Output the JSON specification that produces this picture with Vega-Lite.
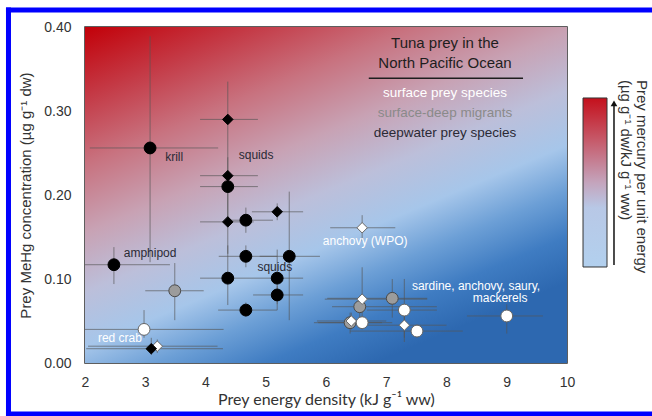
{
  "$schema": "https://vega.github.io/schema/vega-lite/v6.json",
  "width": 482,
  "height": 336,
  "autosize": {"type": "none"},
  "padding": {"left": 85, "top": 27, "right": 85, "bottom": 53},
  "background": "white",
  "config": {
    "view": {"stroke": "#2a2a2a", "strokeWidth": 1.5},
    "font": "Liberation Sans",
    "axisX": {
      "ticks": false, "domain": false, "grid": false, "labelFlush": false,
      "labelFontSize": 14, "labelColor": "#333333", "labelPadding": 12,
      "titleFont": "Lato", "titleFontSize": 16, "titleFontWeight": "normal", "titleColor": "#333333", "titlePadding": 2
    },
    "axisY": {
      "ticks": false, "domain": false, "grid": false, "labelFlush": false,
      "labelFontSize": 14, "labelColor": "#333333", "labelPadding": 14,
      "titleFontSize": 15, "titleFontWeight": "normal", "titleColor": "#333333", "titlePadding": 10
    }
  },
  "datasets": {
    "prey": [
      {"x": 3.20, "y": 0.020, "xmin": 2.05, "xmax": 4.20, "ymin": 0.012, "ymax": 0.028, "habitat": "surface", "shape": "diamond"},
      {"x": 3.08, "y": 0.256, "xmin": 2.08, "xmax": 4.21, "ymin": 0.120, "ymax": 0.389, "habitat": "deep", "shape": "circle"},
      {"x": 2.48, "y": 0.117, "xmin": 2.00, "xmax": 3.41, "ymin": 0.094, "ymax": 0.138, "habitat": "deep", "shape": "circle"},
      {"x": 4.37, "y": 0.210, "xmin": 3.91, "xmax": 4.87, "ymin": 0.170, "ymax": 0.245, "habitat": "deep", "shape": "circle"},
      {"x": 4.67, "y": 0.170, "xmin": 4.37, "xmax": 5.12, "ymin": 0.155, "ymax": 0.185, "habitat": "deep", "shape": "circle"},
      {"x": 4.67, "y": 0.127, "xmin": 4.22, "xmax": 5.19, "ymin": 0.114, "ymax": 0.140, "habitat": "deep", "shape": "circle"},
      {"x": 5.39, "y": 0.127, "xmin": 4.90, "xmax": 5.90, "ymin": 0.051, "ymax": 0.204, "habitat": "deep", "shape": "circle"},
      {"x": 4.37, "y": 0.101, "xmin": 3.91, "xmax": 4.79, "ymin": 0.069, "ymax": 0.140, "habitat": "deep", "shape": "circle"},
      {"x": 5.19, "y": 0.101, "xmin": 4.79, "xmax": 5.62, "ymin": 0.063, "ymax": 0.135, "habitat": "deep", "shape": "circle"},
      {"x": 5.19, "y": 0.081, "xmin": 4.79, "xmax": 5.62, "ymin": 0.070, "ymax": 0.092, "habitat": "deep", "shape": "circle"},
      {"x": 4.67, "y": 0.063, "xmin": 4.21, "xmax": 5.19, "ymin": 0.055, "ymax": 0.072, "habitat": "deep", "shape": "circle"},
      {"x": 4.37, "y": 0.290, "xmin": 3.91, "xmax": 4.87, "ymin": 0.245, "ymax": 0.335, "habitat": "deep", "shape": "diamond"},
      {"x": 4.37, "y": 0.223, "xmin": 3.91, "xmax": 4.87, "ymin": 0.200, "ymax": 0.245, "habitat": "deep", "shape": "diamond"},
      {"x": 4.37, "y": 0.168, "xmin": 3.91, "xmax": 4.80, "ymin": 0.130, "ymax": 0.200, "habitat": "deep", "shape": "diamond"},
      {"x": 5.19, "y": 0.180, "xmin": 4.77, "xmax": 5.62, "ymin": 0.170, "ymax": 0.190, "habitat": "deep", "shape": "diamond"},
      {"x": 3.10, "y": 0.017, "xmin": 2.02, "xmax": 4.29, "ymin": 0.010, "ymax": 0.030, "habitat": "deep", "shape": "diamond"},
      {"x": 3.49, "y": 0.086, "xmin": 3.00, "xmax": 3.97, "ymin": 0.051, "ymax": 0.119, "habitat": "migrant", "shape": "circle"},
      {"x": 7.10, "y": 0.077, "xmin": 6.02, "xmax": 7.68, "ymin": 0.054, "ymax": 0.100, "habitat": "migrant", "shape": "circle"},
      {"x": 6.56, "y": 0.067, "xmin": 6.10, "xmax": 7.84, "ymin": 0.050, "ymax": 0.080, "habitat": "migrant", "shape": "circle"},
      {"x": 6.40, "y": 0.048, "xmin": 5.87, "xmax": 6.93, "ymin": 0.035, "ymax": 0.060, "habitat": "migrant", "shape": "circle"},
      {"x": 2.98, "y": 0.040, "xmin": 2.00, "xmax": 4.30, "ymin": 0.030, "ymax": 0.063, "habitat": "surface", "shape": "circle"},
      {"x": 6.60, "y": 0.048, "xmin": 5.80, "xmax": 7.10, "ymin": 0.040, "ymax": 0.056, "habitat": "surface", "shape": "circle"},
      {"x": 7.30, "y": 0.063, "xmin": 6.68, "xmax": 7.84, "ymin": 0.030, "ymax": 0.100, "habitat": "surface", "shape": "circle"},
      {"x": 7.51, "y": 0.038, "xmin": 6.40, "xmax": 8.27, "ymin": 0.030, "ymax": 0.046, "habitat": "surface", "shape": "circle"},
      {"x": 9.00, "y": 0.056, "xmin": 8.34, "xmax": 9.60, "ymin": 0.035, "ymax": 0.070, "habitat": "surface", "shape": "circle"},
      {"x": 6.60, "y": 0.161, "xmin": 6.07, "xmax": 7.15, "ymin": 0.145, "ymax": 0.176, "habitat": "surface", "shape": "diamond"},
      {"x": 6.60, "y": 0.076, "xmin": 5.98, "xmax": 7.68, "ymin": 0.050, "ymax": 0.114, "habitat": "surface", "shape": "diamond"},
      {"x": 7.30, "y": 0.045, "xmin": 6.60, "xmax": 8.00, "ymin": 0.025, "ymax": 0.060, "habitat": "surface", "shape": "diamond"},
      {"x": 6.42, "y": 0.050, "xmin": 5.85, "xmax": 7.00, "ymin": 0.040, "ymax": 0.060, "habitat": "surface", "shape": "diamond"}
    ],
    "notes": [
      {"x": 3.48, "y": 0.245, "text": "krill", "tone": "dark"},
      {"x": 4.84, "y": 0.248, "text": "squids", "tone": "dark"},
      {"x": 5.15, "y": 0.114, "text": "squids", "tone": "dark"},
      {"x": 3.08, "y": 0.131, "text": "amphipod", "tone": "dark"},
      {"x": 2.58, "y": 0.030, "text": "red crab", "tone": "light"},
      {"x": 6.65, "y": 0.145, "text": "anchovy (WPO)", "tone": "light"},
      {"x": 8.49, "y": 0.092, "text": "sardine, anchovy, saury,", "tone": "light"},
      {"x": 8.89, "y": 0.077, "text": "mackerels", "tone": "light"}
    ],
    "keyTitle": [
      {"y": 0.381, "text": "Tuna prey in the"},
      {"y": 0.357, "text": "North Pacific Ocean"}
    ],
    "keyItems": [
      {"y": 0.321, "text": "surface prey species", "tone": "light"},
      {"y": 0.298, "text": "surface-deep migrants", "tone": "gray"},
      {"y": 0.274, "text": "deepwater prey species", "tone": "dark"}
    ],
    "barTitle": [
      {"x": 11.24, "text": "Prey mercury per unit energy"},
      {"x": 10.98, "text": "(µg g⁻¹ dw/kJ g⁻¹ ww)"}
    ],
    "frame": [
      {"x": 0.73, "x2": 0.73, "y": -0.0607, "y2": 0.4202},
      {"x": 0.73, "x2": 11.44, "y": 0.4202, "y2": 0.4202},
      {"x": 0.73, "x2": 11.44, "y": -0.0607, "y2": -0.0607}
    ]
  },
  "layer": [
    {
      "data": {"values": [{}]},
      "mark": {
        "type": "rect",
        "fill": {
          "gradient": "linear", "x1": 0, "y1": 0, "x2": 0.6, "y2": 1,
          "stops": [
            {"offset": 0, "color": "#c20008"},
            {"offset": 0.15, "color": "#c43844"},
            {"offset": 0.3, "color": "#c8727f"},
            {"offset": 0.45, "color": "#c8a2b4"},
            {"offset": 0.58, "color": "#bcbfda"},
            {"offset": 0.7, "color": "#a6c6ea"},
            {"offset": 0.8, "color": "#6c9fd6"},
            {"offset": 0.9, "color": "#3f7cc2"},
            {"offset": 1, "color": "#2d68b0"}
          ]
        }
      },
      "encoding": {
        "x": {"datum": 2, "type": "quantitative", "title": "Prey energy density (kJ g⁻¹ ww)", "scale": {"domain": [2, 10], "nice": false, "zero": false}},
        "x2": {"datum": 10},
        "y": {"datum": 0, "type": "quantitative", "title": "Prey MeHg concentration (µg g⁻¹ dw)", "scale": {"domain": [0, 0.4], "nice": false, "zero": false}},
        "y2": {"datum": 0.4}
      }
    },
    {
      "data": {"name": "prey"},
      "mark": {"type": "rule", "color": "#555555", "opacity": 0.65, "strokeWidth": 1},
      "encoding": {
        "x": {"field": "xmin", "type": "quantitative", "title": "Prey energy density (kJ g⁻¹ ww)", "scale": {"domain": [2, 10], "nice": false, "zero": false}},
        "x2": {"field": "xmax"},
        "y": {"field": "y", "type": "quantitative", "title": "Prey MeHg concentration (µg g⁻¹ dw)", "scale": {"domain": [0, 0.4], "nice": false, "zero": false}}
      }
    },
    {
      "data": {"name": "prey"},
      "mark": {"type": "rule", "color": "#555555", "opacity": 0.65, "strokeWidth": 1},
      "encoding": {
        "x": {"field": "x", "type": "quantitative", "title": "Prey energy density (kJ g⁻¹ ww)", "scale": {"domain": [2, 10], "nice": false, "zero": false}},
        "y": {"field": "ymin", "type": "quantitative", "title": "Prey MeHg concentration (µg g⁻¹ dw)", "scale": {"domain": [0, 0.4], "nice": false, "zero": false}},
        "y2": {"field": "ymax"}
      }
    },
    {
      "data": {"name": "prey"},
      "mark": {"type": "point", "filled": true, "opacity": 1, "strokeWidth": 1},
      "encoding": {
        "x": {"field": "x", "type": "quantitative", "title": "Prey energy density (kJ g⁻¹ ww)", "scale": {"domain": [2, 10], "nice": false, "zero": false},
          "axis": {"values": [2, 3, 4, 5, 6, 7, 8, 9, 10], "format": "d"}},
        "y": {"field": "y", "type": "quantitative", "title": "Prey MeHg concentration (µg g⁻¹ dw)", "scale": {"domain": [0, 0.4], "nice": false, "zero": false},
          "axis": {"values": [0, 0.1, 0.2, 0.3, 0.4], "format": ".2f"}},
        "shape": {"field": "shape", "type": "nominal", "scale": {"domain": ["circle", "diamond"], "range": ["circle", "diamond"]}, "legend": null},
        "size": {"field": "shape", "type": "ordinal", "scale": {"domain": ["circle", "diamond"], "range": [140, 110]}, "legend": null},
        "fill": {"field": "habitat", "type": "nominal", "scale": {"domain": ["surface", "migrant", "deep"], "range": ["#ffffff", "#9c9c9c", "#000000"]}, "legend": null},
        "stroke": {"field": "habitat", "type": "nominal", "scale": {"domain": ["surface", "migrant", "deep"], "range": ["#666666", "#4a4a4a", "#000000"]}, "legend": null}
      }
    },
    {
      "data": {"name": "notes"},
      "mark": {"type": "text", "fontSize": 12, "align": "center", "baseline": "middle"},
      "encoding": {
        "x": {"field": "x", "type": "quantitative", "title": "Prey energy density (kJ g⁻¹ ww)", "scale": {"domain": [2, 10], "nice": false, "zero": false}},
        "y": {"field": "y", "type": "quantitative", "title": "Prey MeHg concentration (µg g⁻¹ dw)", "scale": {"domain": [0, 0.4], "nice": false, "zero": false}},
        "text": {"field": "text"},
        "color": {"field": "tone", "type": "nominal", "scale": {"domain": ["dark", "light", "gray"], "range": ["#2a2a35", "#ffffff", "#8a8a8a"]}, "legend": null}
      }
    },
    {
      "data": {"name": "keyTitle"},
      "mark": {"type": "text", "fontSize": 15, "align": "center", "baseline": "middle", "color": "#1e1e1e"},
      "encoding": {
        "x": {"datum": 7.975, "type": "quantitative", "title": "Prey energy density (kJ g⁻¹ ww)", "scale": {"domain": [2, 10], "nice": false, "zero": false}},
        "y": {"field": "y", "type": "quantitative", "title": "Prey MeHg concentration (µg g⁻¹ dw)", "scale": {"domain": [0, 0.4], "nice": false, "zero": false}},
        "text": {"field": "text"}
      }
    },
    {
      "data": {"name": "keyItems"},
      "mark": {"type": "text", "fontSize": 13.5, "align": "center", "baseline": "middle"},
      "encoding": {
        "x": {"datum": 7.975, "type": "quantitative", "title": "Prey energy density (kJ g⁻¹ ww)", "scale": {"domain": [2, 10], "nice": false, "zero": false}},
        "y": {"field": "y", "type": "quantitative", "title": "Prey MeHg concentration (µg g⁻¹ dw)", "scale": {"domain": [0, 0.4], "nice": false, "zero": false}},
        "text": {"field": "text"},
        "color": {"field": "tone", "type": "nominal", "scale": {"domain": ["dark", "light", "gray"], "range": ["#2a2a35", "#ffffff", "#8a8a8a"]}, "legend": null}
      }
    },
    {
      "data": {"values": [{}]},
      "mark": {"type": "rule", "color": "#1e1e1e", "strokeWidth": 1.5},
      "encoding": {
        "x": {"datum": 6.71, "type": "quantitative", "title": "Prey energy density (kJ g⁻¹ ww)", "scale": {"domain": [2, 10], "nice": false, "zero": false}},
        "x2": {"datum": 9.27},
        "y": {"datum": 0.339, "type": "quantitative", "title": "Prey MeHg concentration (µg g⁻¹ dw)", "scale": {"domain": [0, 0.4], "nice": false, "zero": false}}
      }
    },
    {
      "data": {"values": [{}]},
      "mark": {
        "type": "rect", "stroke": "#333333", "strokeWidth": 1,
        "fill": {
          "gradient": "linear", "x1": 0, "y1": 0, "x2": 0, "y2": 1,
          "stops": [
            {"offset": 0, "color": "#c4101c"},
            {"offset": 0.25, "color": "#c65a6a"},
            {"offset": 0.5, "color": "#c4a4bc"},
            {"offset": 0.65, "color": "#b8c8e6"},
            {"offset": 1, "color": "#b2d0ee"}
          ]
        }
      },
      "encoding": {
        "x": {"datum": 10.266, "type": "quantitative", "title": "Prey energy density (kJ g⁻¹ ww)", "scale": {"domain": [2, 10], "nice": false, "zero": false}},
        "x2": {"datum": 10.664},
        "y": {"datum": 0.1143, "type": "quantitative", "title": "Prey MeHg concentration (µg g⁻¹ dw)", "scale": {"domain": [0, 0.4], "nice": false, "zero": false}},
        "y2": {"datum": 0.3155}
      }
    },
    {
      "data": {"values": [{}]},
      "mark": {"type": "rule", "color": "#111111", "strokeWidth": 1.5},
      "encoding": {
        "x": {"datum": 10.78, "type": "quantitative", "title": "Prey energy density (kJ g⁻¹ ww)", "scale": {"domain": [2, 10], "nice": false, "zero": false}},
        "y": {"datum": 0.1167, "type": "quantitative", "title": "Prey MeHg concentration (µg g⁻¹ dw)", "scale": {"domain": [0, 0.4], "nice": false, "zero": false}},
        "y2": {"datum": 0.306}
      }
    },
    {
      "data": {"values": [{}]},
      "mark": {"type": "point", "shape": "triangle-up", "filled": true, "color": "#111111", "size": 45, "opacity": 1},
      "encoding": {
        "x": {"datum": 10.78, "type": "quantitative", "title": "Prey energy density (kJ g⁻¹ ww)", "scale": {"domain": [2, 10], "nice": false, "zero": false}},
        "y": {"datum": 0.309, "type": "quantitative", "title": "Prey MeHg concentration (µg g⁻¹ dw)", "scale": {"domain": [0, 0.4], "nice": false, "zero": false}}
      }
    },
    {
      "data": {"name": "barTitle"},
      "mark": {"type": "text", "fontSize": 15, "angle": 90, "align": "left", "baseline": "middle", "color": "#333333"},
      "encoding": {
        "x": {"field": "x", "type": "quantitative", "title": "Prey energy density (kJ g⁻¹ ww)", "scale": {"domain": [2, 10], "nice": false, "zero": false}},
        "y": {"datum": 0.337, "type": "quantitative", "title": "Prey MeHg concentration (µg g⁻¹ dw)", "scale": {"domain": [0, 0.4], "nice": false, "zero": false}},
        "text": {"field": "text"}
      }
    },
    {
      "data": {"name": "frame"},
      "mark": {"type": "rule", "color": "#0000ff", "strokeWidth": 5, "strokeCap": "square"},
      "encoding": {
        "x": {"field": "x", "type": "quantitative", "title": "Prey energy density (kJ g⁻¹ ww)", "scale": {"domain": [2, 10], "nice": false, "zero": false}},
        "x2": {"field": "x2"},
        "y": {"field": "y", "type": "quantitative", "title": "Prey MeHg concentration (µg g⁻¹ dw)", "scale": {"domain": [0, 0.4], "nice": false, "zero": false}},
        "y2": {"field": "y2"}
      }
    }
  ]
}
